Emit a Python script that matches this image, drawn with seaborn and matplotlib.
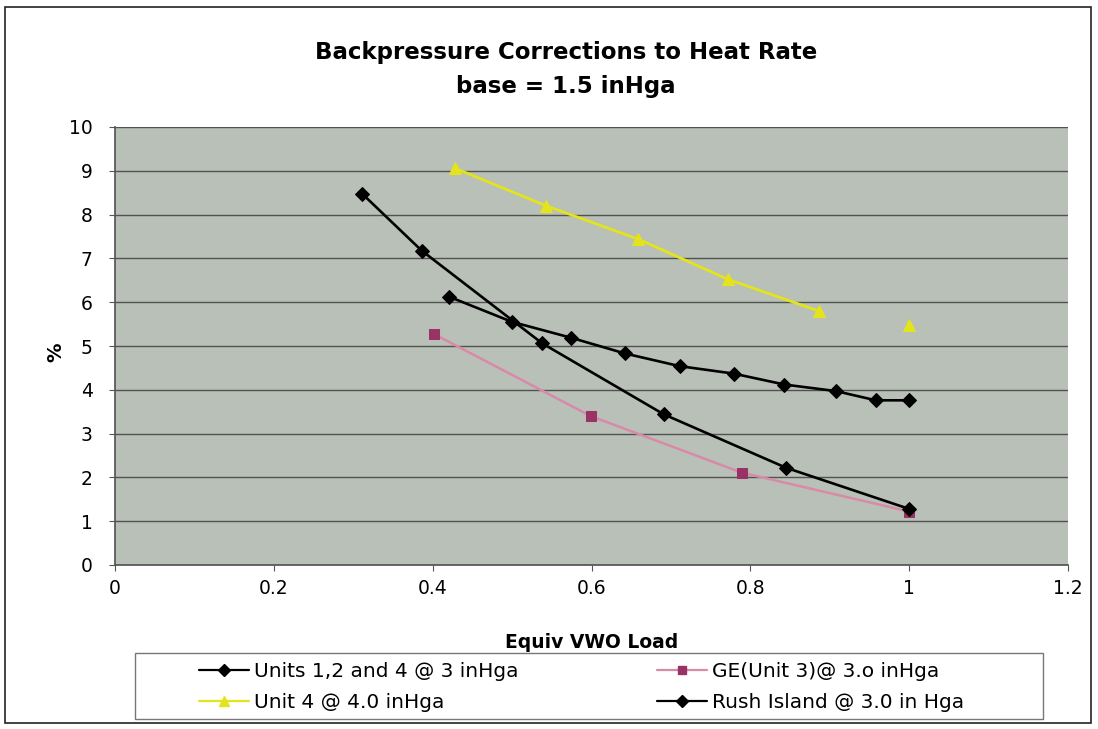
import matplotlib
matplotlib.use("Agg")
import matplotlib.pyplot as plt
import seaborn as sns
import pandas as pd
from matplotlib.patches import Rectangle
from matplotlib.lines import Line2D

# ---- data ----
units_x = [0.42, 0.50, 0.574, 0.642, 0.711, 0.779, 0.843, 0.908, 0.958, 1.0]
units_y = [6.13, 5.55, 5.19, 4.83, 4.54, 4.37, 4.12, 3.97, 3.76, 3.76]
ge_x = [0.402, 0.599, 0.789, 1.0]
ge_y = [5.27, 3.40, 2.11, 1.22]
unit4_x = [0.428, 0.543, 0.659, 0.772, 0.886, 1.0]
unit4_y = [9.06, 8.20, 7.44, 6.52, 5.80, 5.47]
rush_x = [0.311, 0.386, 0.538, 0.691, 0.845, 1.0]
rush_y = [8.48, 7.18, 5.06, 3.44, 2.22, 1.28]

labels = ["Units 1,2 and 4 @ 3 inHga", "GE(Unit 3)@ 3.o inHga",
          "Unit 4 @ 4.0 inHga", "Rush Island @ 3.0 in Hga"]
x_ticks = [0, 0.2, 0.4, 0.6, 0.8, 1.0, 1.2]
x_tick_labels = ["0", "0.2", "0.4", "0.6", "0.8", "1", "1.2"]
y_ticks = list(range(0, 11))

sns.set_theme(style="white")
plt.rcParams["font.family"] = ["DejaVu Sans"]
plt.rcParams["text.color"] = "black"

W, H = 1098, 729
fig = plt.figure(figsize=(W / 100, H / 100), dpi=100)
ax = fig.add_axes([115 / W, 1 - 565 / H, (1068 - 115) / W, (565 - 127) / H])
ax.set_facecolor("#b9c0b8")

BLACK = "#000000"
PLUM = "#993366"
PINK = "#d98aa8"
YEL = "#e4e41c"

df_u = pd.DataFrame({"x": units_x, "y": units_y})
df_g = pd.DataFrame({"x": ge_x, "y": ge_y})
df_4 = pd.DataFrame({"x": unit4_x, "y": unit4_y})
df_r = pd.DataFrame({"x": rush_x, "y": rush_y})

sns.lineplot(data=df_r, x="x", y="y", ax=ax, color=BLACK, lw=1.9, marker="D",
             markersize=7.5, markeredgecolor=BLACK, sort=False, zorder=4)
sns.lineplot(data=df_u, x="x", y="y", ax=ax, color=BLACK, lw=1.9, marker="D",
             markersize=7.5, markeredgecolor=BLACK, sort=False, zorder=4)
sns.lineplot(data=df_g, x="x", y="y", ax=ax, color=PINK, lw=1.8, marker="s",
             markersize=7, markerfacecolor=PLUM, markeredgecolor=PLUM, sort=False, zorder=3)
sns.lineplot(data=df_4.iloc[:-1], x="x", y="y", ax=ax, color=YEL, lw=2.0, marker="^",
             markersize=9, markerfacecolor=YEL, markeredgecolor=YEL, sort=False, zorder=3)
sns.lineplot(data=df_4.iloc[-1:], x="x", y="y", ax=ax, color=YEL, lw=0, marker="^",
             markersize=9, markerfacecolor=YEL, markeredgecolor=YEL, zorder=3)

ax.set_xlim(0, 1.2)
ax.set_ylim(0, 10)
ax.set_xticks(x_ticks)
ax.set_xticklabels(x_tick_labels)
ax.set_yticks(y_ticks)
ax.yaxis.grid(True, color="#4f544f", lw=1.0)
ax.xaxis.grid(False)
ax.set_axisbelow(True)
for s in ["top", "right"]:
    ax.spines[s].set_visible(False)
ax.spines["left"].set_color("#555555")
ax.spines["bottom"].set_color("#555555")
ax.tick_params(axis="both", labelsize=13.5, colors="#555555", labelcolor="black",
               length=4, direction="out", left=True, bottom=True, width=0.8)
ax.tick_params(axis="x", pad=6)
ax.tick_params(axis="y", pad=12)
ax.set_xlabel("")
ax.set_ylabel("")

# titles
fig.text(566 / W, 1 - 52 / H, "Backpressure Corrections to Heat Rate",
         ha="center", va="center", fontsize=16.5, fontweight="bold", color="black")
fig.text(566 / W, 1 - 86 / H, "base = 1.5 inHga",
         ha="center", va="center", fontsize=16.5, fontweight="bold", color="black")
fig.text(592 / W, 1 - 643 / H, "Equiv VWO Load", ha="center", va="center",
         fontsize=13.5, fontweight="bold", color="black")
fig.text(56 / W, 1 - 352 / H, "%", ha="center", va="center",
         fontsize=14, fontweight="bold", rotation=90, color="black")

# chart border
fig.add_artist(Rectangle((5 / W, 6 / H), (1091 - 5) / W, (722 - 6) / H,
                         transform=fig.transFigure, fill=False, ec="#222222", lw=1.2))

# legend frame + two columns
fig.add_artist(Rectangle((135 / W, 1 - 719 / H), (1043 - 135) / W, (719 - 653) / H,
                         transform=fig.transFigure, fill=False, ec="#777777", lw=1.0))
h_units = Line2D([], [], color=BLACK, lw=1.6, marker="D", markersize=6)
h_ge = Line2D([], [], color=PINK, lw=1.6, marker="s", markersize=5.5,
              markerfacecolor=PLUM, markeredgecolor=PLUM)
h_u4 = Line2D([], [], color=YEL, lw=1.6, marker="^", markersize=7)
h_rush = Line2D([], [], color=BLACK, lw=1.6, marker="D", markersize=6)
kw = dict(frameon=False, fontsize=14.5, handlelength=2.5, handletextpad=0.25,
          labelspacing=0.6, borderpad=0, borderaxespad=0, loc="upper left")
leg1 = fig.legend([h_units, h_u4], [labels[0], labels[2]],
                  bbox_to_anchor=(199 / W, 1 - 662 / H), **kw)
leg2 = fig.legend([h_ge, h_rush], [labels[1], labels[3]],
                  bbox_to_anchor=(657 / W, 1 - 662 / H), **kw)
for lg in (leg1, leg2):
    for t in lg.get_texts():
        t.set_color("black")

fig.savefig("out.png", dpi=100, facecolor="white")
